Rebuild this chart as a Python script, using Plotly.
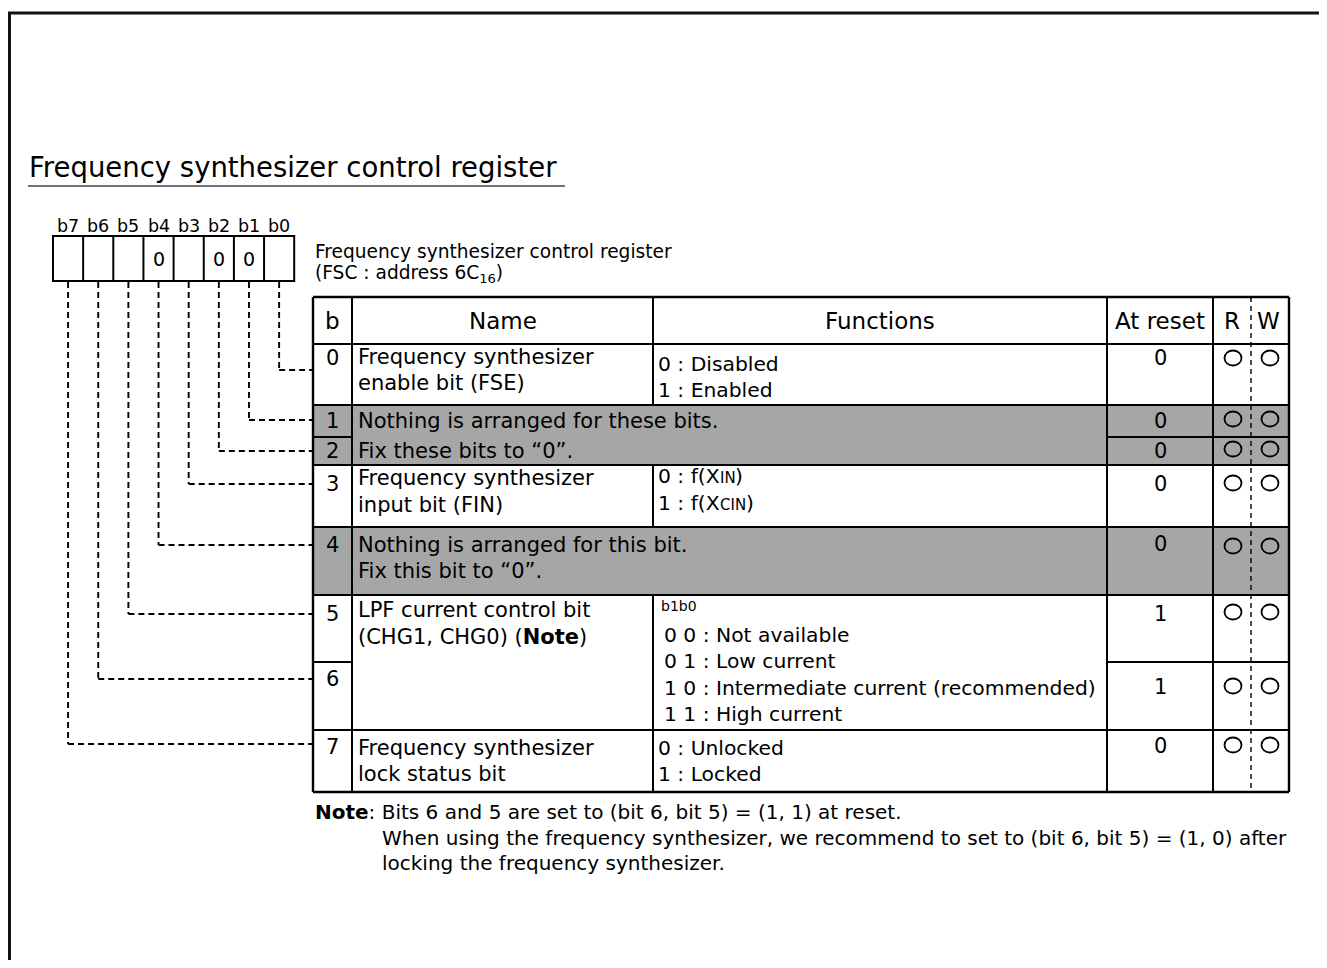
import plotly.graph_objects as go

# ---------------- data (content) ----------------
register_title = "Frequency synthesizer control register"
register_desc = ["Frequency synthesizer control register",
                 "(FSC : address 6C<sub>16</sub>)"]
bit_labels = ["b7", "b6", "b5", "b4", "b3", "b2", "b1", "b0"]
bit_fixed = ["", "", "", "0", "", "0", "0", ""]
header_labels = ["b", "Name", "Functions", "At reset", "R", "W"]
bit_numbers = ["0", "1", "2", "3", "4", "5", "6", "7"]
reset_values = ["0", "0", "0", "0", "0", "1", "1", "0"]
readable = [1, 1, 1, 1, 1, 1, 1, 1]
writable = [1, 1, 1, 1, 1, 1, 1, 1]
group_bits = [[0], [1, 2], [3], [4], [5, 6], [7]]
group_reserved = [False, True, False, True, False, False]
group_names = [
    ["Frequency synthesizer", "enable bit (FSE)"],
    ["Nothing is arranged for these bits.", "Fix these bits to \u201c0\u201d."],
    ["Frequency synthesizer", "input bit (FIN)"],
    ["Nothing is arranged for this bit.", "Fix this bit to \u201c0\u201d."],
    ["LPF current control bit", "(CHG1, CHG0) (<b>Note</b>)"],
    ["Frequency synthesizer", "lock status bit"],
]
# each function line: (normal text, small-cap suffix, closing text)
group_functions = [
    [("0 : Disabled", "", ""), ("1 : Enabled", "", "")],
    [],
    [("0 : f(X", "IN", ")"), ("1 : f(X", "CIN", ")")],
    [],
    [("0 0 : Not available", "", ""), ("0 1 : Low current", "", ""),
     ("1 0 : Intermediate current (recommended)", "", ""), ("1 1 : High current", "", "")],
    [("0 : Unlocked", "", ""), ("1 : Locked", "", "")],
]
function_caption = ["", "", "", "", "b1b0", ""]
note_lines = [
    "<b>Note</b>: Bits 6 and 5 are set to (bit 6, bit 5) = (1, 1) at reset.",
    "When using the frequency synthesizer, we recommend to set to (bit 6, bit 5) = (1, 0) after",
    "locking the frequency synthesizer.",
]

# ---------------- layout (geometry / style) ----------------
PAGE = 8                      # default body margin of the html page
W, H = 1327, 968
FONT = "DejaVu Sans"
INK = "#000000"
GRAY = "#a6a6a6"

REG_X0, REG_CELL, REG_Y0, REG_Y1 = 53, 30.15, 236, 281
COL = [313, 352, 653, 1107, 1213, 1289]
RW_MID = 1251
ROW = [297, 344, 405, 437, 465, 527, 595, 662, 730, 792]
R_X, W_X = 1233, 1270
BIT_Y = [358, 421, 451, 484, 545, 614, 679, 747]
RESET_Y = [358, 421, 451, 484, 544, 614, 687, 746]
MARK_Y = [358, 419, 449, 483, 546, 612, 686, 745]
LINK_Y = [370, 420, 451, 484, 545, 614, 679, 744]
GROUP_NAME_Y = [357, 421, 478, 545, 610, 748]
GROUP_NAME_PITCH = [26, 30, 27, 26, 27, 26]
GROUP_FUNC_Y = [364, 0, 476, 0, 635, 748]
GROUP_FUNC_PITCH = [26, 0, 27, 0, 26.3, 26]
CAPTION_DY = -29
BODY_SIZE = 21
FUNC_SIZE = 20.3
SMALL_SIZE = 15

# DejaVu Sans advance widths (em) used to butt small-cap runs against normal text
ADV = {"0": 0.636, "1": 0.636, " ": 0.318, ":": 0.337, "f": 0.352, "(": 0.390,
       "X": 0.685, "I": 0.295, "N": 0.748, "C": 0.698, ")": 0.390}


def run_width(s, size):
    return sum(ADV.get(ch, 0.6) for ch in s) * size


shapes = []
annotations = []


def line(x0, y0, x1, y1, width=2.0, dash="solid", color=INK):
    shapes.append(dict(type="line", xref="x", yref="y", x0=x0, y0=y0, x1=x1, y1=y1,
                       line=dict(color=color, width=width, dash=dash)))


def text(x, y, s, size, anchor="left", color=INK):
    annotations.append(dict(x=x, y=y, xref="x", yref="y", text=s, showarrow=False,
                            xanchor=anchor, yanchor="middle", align=anchor,
                            font=dict(family=FONT, size=size, color=color)))


# outer frame
line(9.5, 12, 9.5, H, width=3, color="#111")
line(8, 13, W, 13, width=3, color="#111")

# title
text(27, 167, register_title, 27.5)
line(28, 186, 565, 186, width=1.6, color="#444")

# register boxes
shapes.append(dict(type="rect", xref="x", yref="y", x0=REG_X0, x1=REG_X0 + 8 * REG_CELL,
                   y0=REG_Y0, y1=REG_Y1, line=dict(color=INK, width=2)))
for k in range(1, 8):
    xx = REG_X0 + k * REG_CELL
    line(xx, REG_Y0, xx, REG_Y1, width=2)
for k, lab in enumerate(bit_labels):
    cx = REG_X0 + (k + 0.5) * REG_CELL
    text(cx, 226, lab, 17.5, anchor="center")
    if bit_fixed[k]:
        text(cx, 259, bit_fixed[k], 19, anchor="center")
text(313, 251, register_desc[0], 18.6)
text(313, 274, register_desc[1], 18.6)

# gray fills for reserved fields
for g, reserved in enumerate(group_reserved):
    if reserved:
        b0, b1 = group_bits[g][0], group_bits[g][-1]
        shapes.append(dict(type="rect", xref="x", yref="y", x0=COL[0], x1=COL[-1],
                           y0=ROW[b0 + 1], y1=ROW[b1 + 2], fillcolor=GRAY,
                           line=dict(width=0), layer="below"))

# horizontal rules
line(COL[0], ROW[0], COL[-1], ROW[0], width=2.4)
line(COL[0], ROW[1], COL[-1], ROW[1], width=2.2)
group_of = {}
for g, bits in enumerate(group_bits):
    for b in bits:
        group_of[b] = g
for b in range(8):
    yy = ROW[b + 2]
    if b < 7 and group_of[b] == group_of[b + 1]:
        line(COL[0], yy, COL[1], yy, width=2)
        line(COL[3], yy, COL[-1], yy, width=2)
    else:
        line(COL[0], yy, COL[-1], yy, width=2.4 if b == 7 else 2.2)

# vertical rules
for c in (COL[0], COL[1], COL[3], COL[4], COL[5]):
    line(c, ROW[0], c, ROW[-1], width=2.4 if c in (COL[0], COL[5]) else 2)
line(COL[2], ROW[0], COL[2], ROW[1], width=2)
for g, bits in enumerate(group_bits):
    if not group_reserved[g]:
        line(COL[2], ROW[bits[0] + 1], COL[2], ROW[bits[-1] + 2], width=2)
line(RW_MID, ROW[0], RW_MID, ROW[-1], width=1.4, dash="5px,4px")

# dashed links from register bits to table rows
for b in range(8):
    cx = REG_X0 + (7 - b + 0.5) * REG_CELL
    line(cx, REG_Y1 + 1, cx, LINK_Y[b], width=1.9, dash="6px,4px")
    line(cx, LINK_Y[b], COL[0], LINK_Y[b], width=1.9, dash="6px,4px")

# header
hy = (ROW[0] + ROW[1]) / 2
text((COL[0] + COL[1]) / 2, hy, header_labels[0], 23, anchor="center")
text((COL[1] + COL[2]) / 2, hy, header_labels[1], 23, anchor="center")
text((COL[2] + COL[3]) / 2, hy, header_labels[2], 23, anchor="center")
text((COL[3] + COL[4]) / 2, hy, header_labels[3], 23, anchor="center")
text(R_X - 1, hy, header_labels[4], 23, anchor="center")
text(W_X - 2, hy, header_labels[5], 23, anchor="center")

# body rows
for b in range(8):
    text((COL[0] + COL[1]) / 2, BIT_Y[b], bit_numbers[b], BODY_SIZE, anchor="center")
    text((COL[3] + COL[4]) / 2, RESET_Y[b], reset_values[b], BODY_SIZE, anchor="center")
    if readable[b]:
        shapes.append(dict(type="circle", xref="x", yref="y", x0=R_X - 8.5, x1=R_X + 8.5,
                           y0=MARK_Y[b] - 7.5, y1=MARK_Y[b] + 7.5,
                           line=dict(color=INK, width=1.8)))
    if writable[b]:
        shapes.append(dict(type="circle", xref="x", yref="y", x0=W_X - 8.5, x1=W_X + 8.5,
                           y0=MARK_Y[b] - 7.5, y1=MARK_Y[b] + 7.5,
                           line=dict(color=INK, width=1.8)))

for g in range(len(group_bits)):
    for k, s in enumerate(group_names[g]):
        text(COL[1] + 4, GROUP_NAME_Y[g] + k * GROUP_NAME_PITCH[g], s, BODY_SIZE)
    indent = 0
    if function_caption[g]:
        text(COL[2] + 6, GROUP_FUNC_Y[g] + CAPTION_DY, function_caption[g], 14)
        indent = 6
    for k, (main, small, tail) in enumerate(group_functions[g]):
        yy = GROUP_FUNC_Y[g] + k * GROUP_FUNC_PITCH[g]
        x0 = COL[2] + 3 + indent
        text(x0, yy, main, FUNC_SIZE)
        if small:
            x1 = x0 + run_width(main, FUNC_SIZE)
            text(x1, yy + 1.5, small, SMALL_SIZE)
            x2 = x1 + run_width(small, SMALL_SIZE)
            text(x2, yy, tail, FUNC_SIZE)

# note
text(313, 812, note_lines[0], 20)
text(380, 838, note_lines[1], 20)
text(380, 863, note_lines[2], 20)

fig = go.Figure()
fig.update_layout(
    width=W - 2 * PAGE, height=H - 2 * PAGE, autosize=False,
    margin=dict(l=0, r=0, t=0, b=0, pad=0),
    paper_bgcolor="white", plot_bgcolor="white",
    xaxis=dict(range=[PAGE, W - PAGE], visible=False, fixedrange=True),
    yaxis=dict(range=[H - PAGE, PAGE], visible=False, fixedrange=True),
    shapes=shapes, annotations=annotations, showlegend=False,
)
fig.write_html("out.html")
